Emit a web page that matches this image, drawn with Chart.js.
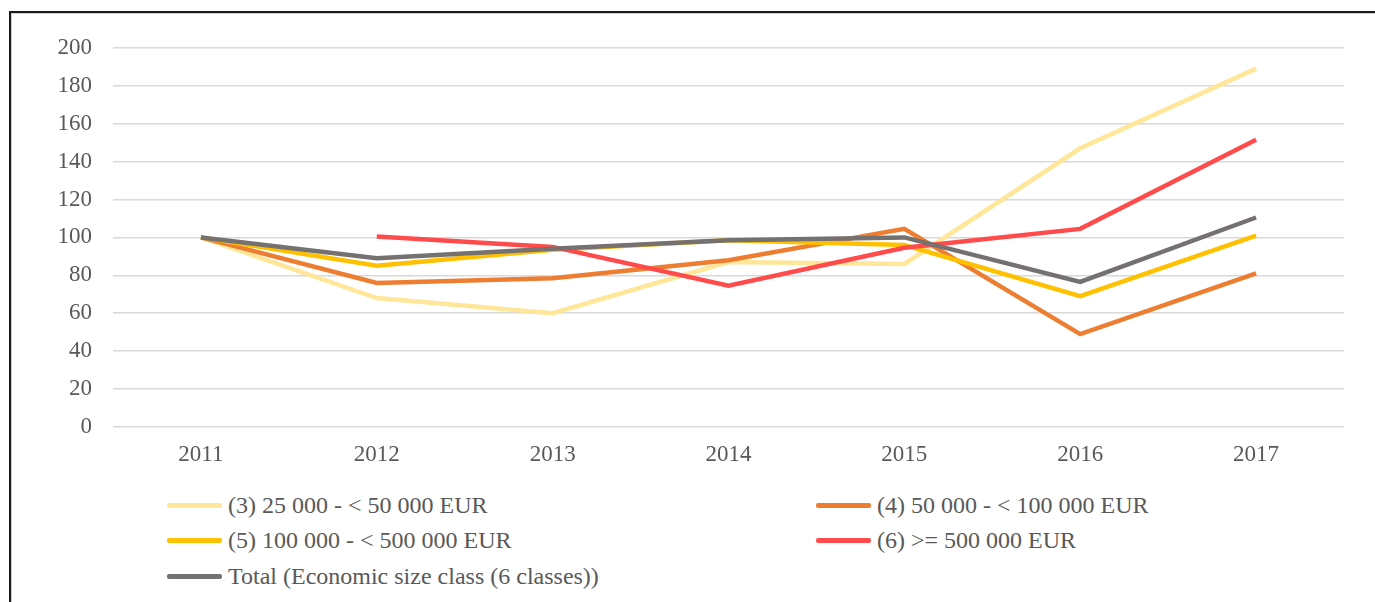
<!DOCTYPE html>
<html>
<head>
<meta charset="utf-8">
<script src="https://cdn.jsdelivr.net/npm/chart.js@4/dist/chart.umd.min.js"></script>
<style>
    html, body { margin: 0; padding: 0; background: #fff; }
    body { width: 1375px; height: 602px; position: relative; overflow: hidden; }
    .frame {
        position: absolute; left: 9px; top: 11px; width: 1400px; height: 620px;
        border-top: 2px solid #1a1a1a; border-left: 2px solid #1a1a1a;
        box-shadow: inset 1px 1px 0 #cfcfcf;
    }
    #wrap { position: absolute; left: 10px; top: 13px; }
    .legend {
        position: absolute; left: 0; top: 0;
        font-family: 'Liberation Serif', 'Times New Roman', serif;
        font-size: 24px; color: #595959;
    }
    .legend-item { position: absolute; display: flex; align-items: center; white-space: nowrap; height: 30px; }
    .legend-item .swatch { width: 55px; height: 5px; border-radius: 2px; margin-right: 6px; }
</style>
</head>
<body>
<div class="frame"></div>
<div id="wrap"><canvas id="chart" width="1365" height="457"></canvas></div>
<div class="legend" id="legend"></div>
<script>
const years = ['2011', '2012', '2013', '2014', '2015', '2016', '2017']

const seriesNames = [
    '(3) 25 000 - < 50 000 EUR',
    '(4) 50 000 - < 100 000 EUR',
    '(5) 100 000 - < 500 000 EUR',
    '(6) >= 500 000 EUR',
    'Total (Economic size class (6 classes))',
]

const class3 = [100, 68, 60, 87, 86, 147, 189]
const class4 = [100, 76, 78.5, 88, 104.5, 49, 81]
const class5 = [100, 85, 93.5, 98.5, 96, 69, 101]
const class6 = [null, 100.5, 95, 74.5, 94.5, 104.5, 151.5]
const total = [100, 89, 94, 98.5, 100, 76.5, 110.5]

const colors = ['#FFE699', '#ED7D31', '#FFC000', '#FF4B4B', '#767171']

const yTicks = { min: 0, max: 200, step: 20 }

const allValues = [class3, class4, class5, class6, total]

const fontFamily = "'Liberation Serif', 'Times New Roman', serif"

const ctx = document.getElementById('chart').getContext('2d')
new Chart(ctx, {
    type: 'line',
    data: {
        labels: years,
        datasets: allValues.map((values, i) => ({
            label: seriesNames[i],
            data: values,
            borderColor: colors[i],
            backgroundColor: colors[i],
            borderWidth: 4.5,
            pointRadius: 0,
            tension: 0,
            fill: false,
            // later series drawn on top, like the original
            order: allValues.length - i,
        })),
    },
    options: {
        responsive: false,
        animation: false,
        layout: {
            padding: { top: 31, right: 31, left: 0, bottom: 0 },
        },
        plugins: {
            legend: { display: false },
            tooltip: { enabled: false },
        },
        scales: {
            x: {
                offset: true,
                grid: { display: false },
                border: { display: false },
                ticks: {
                    color: '#595959',
                    padding: 6,
                    font: { family: fontFamily, size: 23 },
                },
                afterFit: (scale) => {
                    scale.height = 43
                },
            },
            y: {
                min: yTicks.min,
                max: yTicks.max,
                grid: {
                    color: '#D9D9D9',
                    lineWidth: 1.5,
                    drawTicks: false,
                },
                border: { display: false },
                ticks: {
                    stepSize: yTicks.step,
                    color: '#595959',
                    padding: 21,
                    font: { family: fontFamily, size: 23 },
                },
                afterFit: (scale) => {
                    scale.width = 103
                },
            },
        },
    },
})

// ##### Legend (two columns, like the original) #####
const legendSlots = [
    { left: 167, top: 490 },
    { left: 816, top: 490 },
    { left: 167, top: 525 },
    { left: 816, top: 525 },
    { left: 167, top: 561 },
]
const legend = document.getElementById('legend')
seriesNames.forEach((name, i) => {
    const item = document.createElement('div')
    item.className = 'legend-item'
    item.style.left = legendSlots[i].left + 'px'
    item.style.top = legendSlots[i].top + 'px'
    item.innerHTML = `<div class="swatch" style="background:${colors[i]}"></div><span></span>`
    item.querySelector('span').textContent = name
    legend.appendChild(item)
})
</script>
</body>
</html>
